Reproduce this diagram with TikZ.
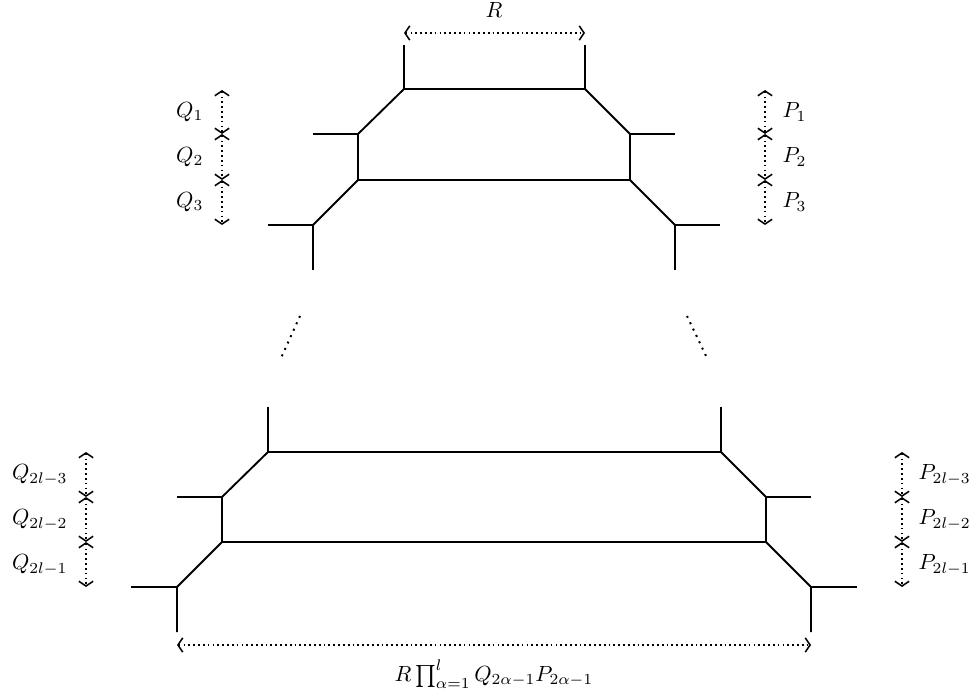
\documentclass[tikz,border=0pt]{standalone}
\usetikzlibrary{arrows.meta}
\begin{document}
\begin{tikzpicture}[x=0.016cm,y=-0.016cm,
  web/.style={line width=0.85pt},
  tip/.tip={Straight Barb[length=2.2pt,width=6.5pt,line width=0.7pt]},
  dimarrow/.style={line width=0.8pt,dash pattern=on 0.8pt off 1.4pt,tip-tip},
  contdots/.style={line width=0.9pt,dash pattern=on 0.9pt off 2.3pt},
  lbl/.style={inner sep=1pt}]
\useasboundingbox (0,0) rectangle (976,696);
% ---- top web ----
\coordinate (ta1) at (404,45); \coordinate (ta2) at (404,89);
\coordinate (tb1) at (585,45); \coordinate (tb2) at (585,89);
\coordinate (tc1) at (358,134); \coordinate (tc0) at (313,134); \coordinate (tc2) at (358,180);
\coordinate (td1) at (630,134); \coordinate (td0) at (675,134); \coordinate (td2) at (630,180);
\coordinate (te1) at (313,225); \coordinate (te0) at (268,225); \coordinate (te2) at (313,270);
\coordinate (tf1) at (675,225); \coordinate (tf0) at (720,225); \coordinate (tf2) at (675,270);
\draw[web] (ta1) -- (ta2) -- (tb2) -- (tb1);
\draw[web] (ta2) -- (tc1) -- (tc2) -- (td2) -- (td1) -- (tb2);
\draw[web] (tc0) -- (tc1); \draw[web] (td1) -- (td0);
\draw[web] (tc2) -- (te1) -- (te2); \draw[web] (te0) -- (te1);
\draw[web] (td2) -- (tf1) -- (tf2); \draw[web] (tf1) -- (tf0);
% ---- continuation dots ----
\coordinate (dl1) at (300,316); \coordinate (dl2) at (281,358);
\coordinate (dr1) at (687,316); \coordinate (dr2) at (707,358);
\draw[contdots] (dl1) -- (dl2);
\draw[contdots] (dr1) -- (dr2);
% ---- bottom web ----
\coordinate (ba1) at (268,407); \coordinate (ba2) at (268,452);
\coordinate (bb1) at (721,407); \coordinate (bb2) at (721,452);
\coordinate (bc1) at (222,497); \coordinate (bc0) at (177,497); \coordinate (bc2) at (222,542);
\coordinate (bd1) at (766,497); \coordinate (bd0) at (811,497); \coordinate (bd2) at (766,542);
\coordinate (be1) at (177,587); \coordinate (be0) at (131,587); \coordinate (be2) at (177,632);
\coordinate (bf1) at (811,587); \coordinate (bf0) at (857,587); \coordinate (bf2) at (811,632);
\draw[web] (ba1) -- (ba2) -- (bb2) -- (bb1);
\draw[web] (ba2) -- (bc1) -- (bc2) -- (bd2) -- (bd1) -- (bb2);
\draw[web] (bc0) -- (bc1); \draw[web] (bd1) -- (bd0);
\draw[web] (bc2) -- (be1) -- (be2); \draw[web] (be0) -- (be1);
\draw[web] (bd2) -- (bf1) -- (bf2); \draw[web] (bf1) -- (bf0);
% ---- R arrow ----
\coordinate (r1) at (404,33); \coordinate (r2) at (585,33);
\draw[dimarrow] (r1) -- (r2);
\node[lbl] (R) at (494,10) {$R$};
% ---- Q / P arrows top ----
\coordinate (q0) at (222,90); \coordinate (q1) at (222,134); \coordinate (q2) at (222,180); \coordinate (q3) at (222,225);
\draw[dimarrow] (q0) -- (q1); \draw[dimarrow] (q1) -- (q2); \draw[dimarrow] (q2) -- (q3);
\node[lbl,anchor=east] (Q1) at (206,112) {$Q_1$};
\node[lbl,anchor=east] (Q2) at (206,157) {$Q_2$};
\node[lbl,anchor=east] (Q3) at (206,202) {$Q_3$};
\coordinate (p0) at (765,90); \coordinate (p1) at (765,134); \coordinate (p2) at (765,180); \coordinate (p3) at (765,225);
\draw[dimarrow] (p0) -- (p1); \draw[dimarrow] (p1) -- (p2); \draw[dimarrow] (p2) -- (p3);
\node[lbl,anchor=west] (P1) at (780,112) {$P_1$};
\node[lbl,anchor=west] (P2) at (780,157) {$P_2$};
\node[lbl,anchor=west] (P3) at (780,202) {$P_3$};
% ---- Q / P arrows bottom ----
\coordinate (bq0) at (86,452); \coordinate (bq1) at (86,497); \coordinate (bq2) at (86,542); \coordinate (bq3) at (86,587);
\draw[dimarrow] (bq0) -- (bq1); \draw[dimarrow] (bq1) -- (bq2); \draw[dimarrow] (bq2) -- (bq3);
\node[lbl,anchor=east] (BQ1) at (70,475) {$Q_{2l-3}$};
\node[lbl,anchor=east] (BQ2) at (70,520) {$Q_{2l-2}$};
\node[lbl,anchor=east] (BQ3) at (70,565) {$Q_{2l-1}$};
\coordinate (bp0) at (902,452); \coordinate (bp1) at (902,497); \coordinate (bp2) at (902,542); \coordinate (bp3) at (902,587);
\draw[dimarrow] (bp0) -- (bp1); \draw[dimarrow] (bp1) -- (bp2); \draw[dimarrow] (bp2) -- (bp3);
\node[lbl,anchor=west] (BP1) at (916,475) {$P_{2l-3}$};
\node[lbl,anchor=west] (BP2) at (916,520) {$P_{2l-2}$};
\node[lbl,anchor=west] (BP3) at (916,565) {$P_{2l-1}$};
% ---- bottom arrow ----
\coordinate (s1) at (177,645); \coordinate (s2) at (811,645);
\draw[dimarrow] (s1) -- (s2);
\node[lbl] (S) at (494,674) {$R\prod_{\alpha=1}^{l} Q_{2\alpha-1}P_{2\alpha-1}$};
\end{tikzpicture}
\end{document}
